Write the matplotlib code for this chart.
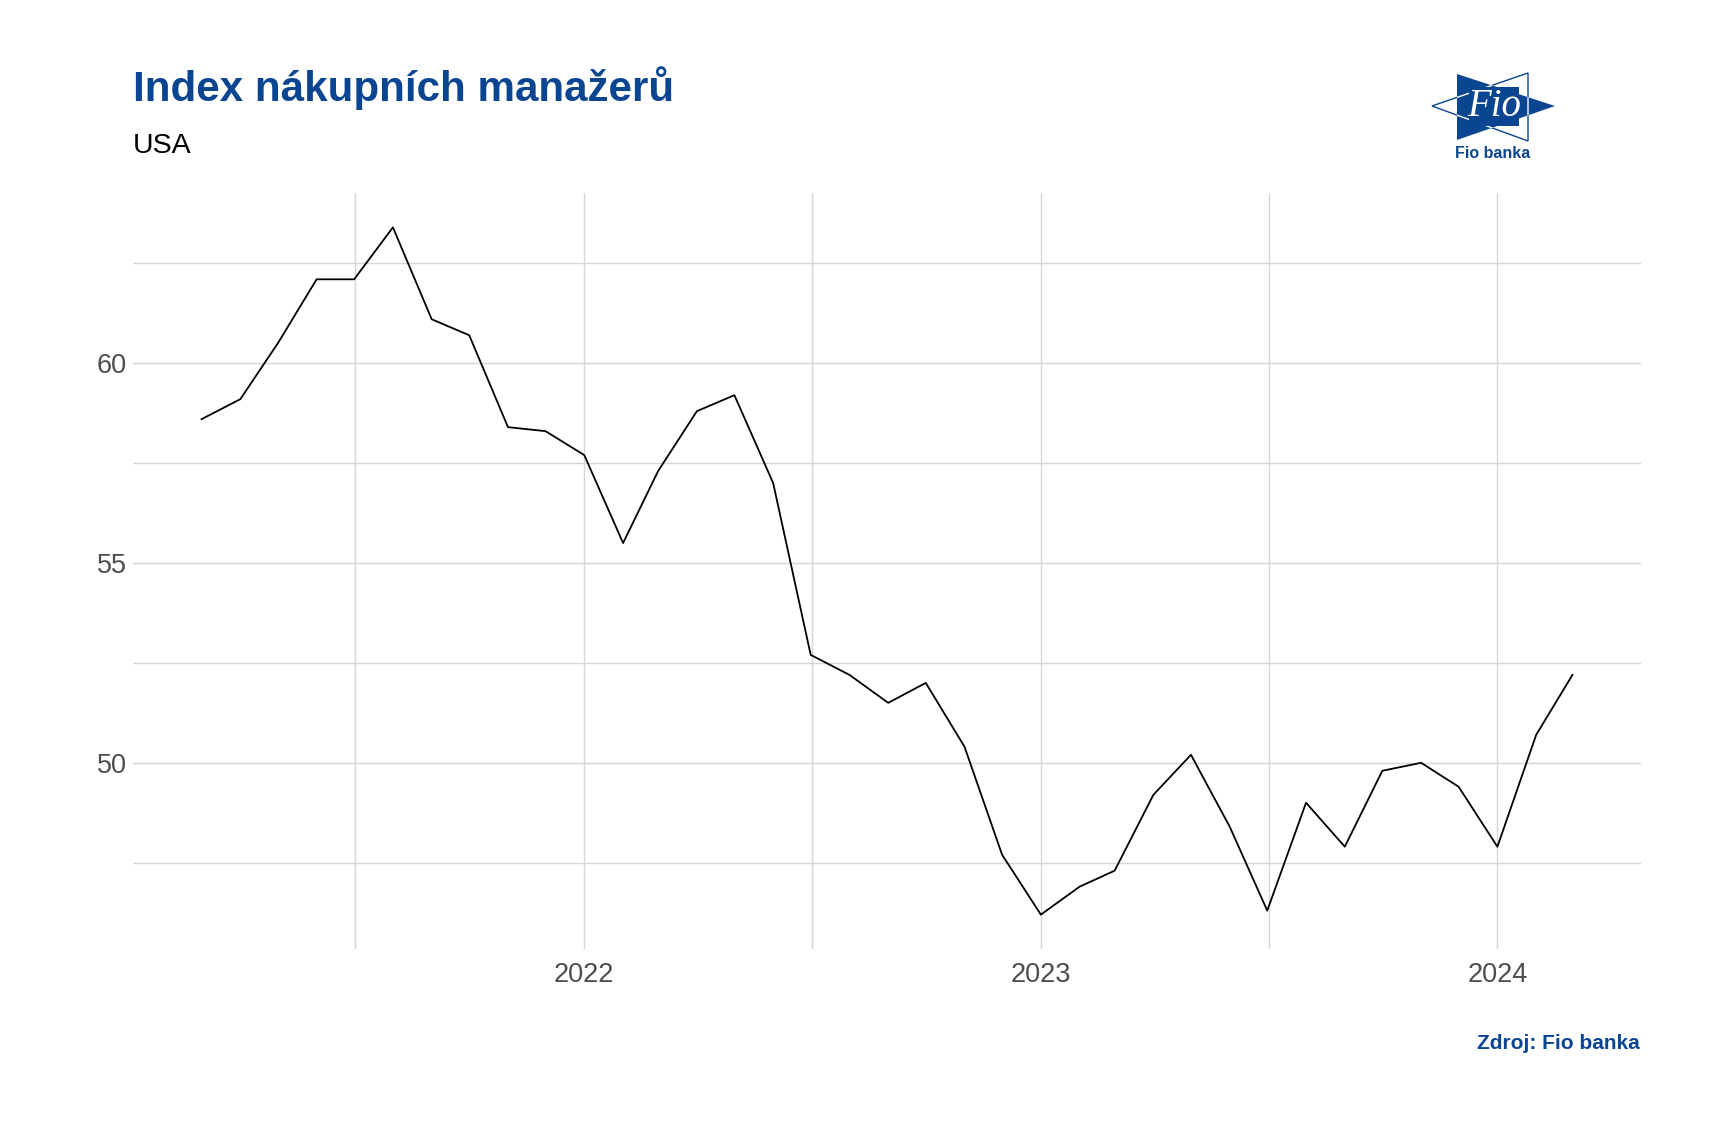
import matplotlib
matplotlib.use("Agg")
import matplotlib.pyplot as plt
import matplotlib.dates as mdates
from matplotlib.patches import Polygon, Rectangle
import pandas as pd
import numpy as np

# ---- data ----
start_date = "2021-03-01"
pmi_values = [58.6, 59.1, 60.5, 62.1, 62.1, 63.4, 61.1, 60.7, 58.4, 58.3, 57.7,
              55.5, 57.3, 58.8, 59.2, 57.0, 52.7, 52.2, 51.5, 52.0, 50.4, 47.7,
              46.2, 46.9, 47.3, 49.2, 50.2, 48.4, 46.3, 49.0, 47.9, 49.8, 50.0,
              49.4, 47.9, 50.7, 52.2]
dates = pd.date_range(start_date, periods=len(pmi_values), freq="MS")
y_ticks = [50, 55, 60]
y_minor = [47.5, 52.5, 57.5, 62.5]
x_tick_years = ["2022", "2023", "2024"]
x_minor_dates = ["2021-07-02", "2022-07-02", "2023-07-02"]

title = "Index nákupních manažerů"
subtitle = "USA"
caption = "Zdroj: Fio banka"

BLUE = "#0a4592"
GRID = "#d6d6d6"

plt.rcParams['font.family'] = ['Liberation Sans', 'DejaVu Sans']

W, H = 1711, 1123
fig = plt.figure(figsize=(W / 100, H / 100), dpi=100)
ax = fig.add_axes([133 / W, 1 - 949 / H, (1641 - 133) / W, (949 - 193) / H])

ax.plot(dates, pmi_values, color="black", lw=1.3, zorder=3)

# limits with 5% expansion
d0, d1 = mdates.date2num(dates[0]), mdates.date2num(dates[-1])
ex = (d1 - d0) * 0.05
ax.set_xlim(d0 - ex, d1 + ex)
ymin, ymax = min(pmi_values), max(pmi_values)
ey = (ymax - ymin) * 0.05
ax.set_ylim(ymin - ey, ymax + ey)

ax.set_yticks(y_ticks)
ax.set_yticks(y_minor, minor=True)
xt = [mdates.date2num(pd.Timestamp(y + "-01-01")) for y in x_tick_years]
ax.set_xticks(xt)
ax.set_xticklabels(x_tick_years)
ax.set_xticks([mdates.date2num(pd.Timestamp(d)) for d in x_minor_dates], minor=True)

ax.grid(True, which="both", color=GRID, lw=1.0, zorder=0)
for s in ax.spines.values():
    s.set_visible(False)
ax.tick_params(which="both", length=0)
ax.tick_params(axis="both", labelsize=19.5, labelcolor="#4d4d4d")
ax.tick_params(axis="y", pad=4.5)
ax.tick_params(axis="x", pad=9)

# texts
fig.text(133 / W, 1 - 101 / H, title, fontsize=30.3, fontweight="bold", color=BLUE,
         ha="left", va="baseline")
fig.text(133 / W, 1 - 153 / H, subtitle, fontsize=20.5, color="black",
         ha="left", va="baseline")
fig.text(1640 / W, 1 - 1049 / H, caption, fontsize=15, fontweight="bold", color=BLUE,
         ha="right", va="baseline")

# logo
lax = fig.add_axes([0, 0, 1, 1], zorder=5)
lax.set_xlim(0, W)
lax.set_ylim(H, 0)
lax.axis("off")
blue_tri = Polygon([(1457, 74), (1457, 140), (1555, 106)], closed=True,
                   facecolor=BLUE, edgecolor="none")
lax.add_patch(blue_tri)
left_tri_pts = [(1432, 106), (1528, 73), (1528, 141)]
outline = Polygon(left_tri_pts, closed=True, facecolor="none", edgecolor=BLUE, lw=1.0)
lax.add_patch(outline)
outline_w = Polygon(left_tri_pts, closed=True, facecolor="none", edgecolor="white", lw=1.0)
lax.add_patch(outline_w)
outline_w.set_clip_path(blue_tri)
lax.add_patch(Rectangle((1469, 87), 50, 39, facecolor=BLUE, edgecolor="none"))
lax.text(1494, 107, "Fio", color="white", fontsize=28, family="Liberation Serif",
         style="italic", ha="center", va="center")
lax.text(1493, 154, "Fio banka", color=BLUE, fontsize=11.5, fontweight="bold",
         ha="center", va="center")

fig.savefig("out.png", dpi=100, facecolor="white")
